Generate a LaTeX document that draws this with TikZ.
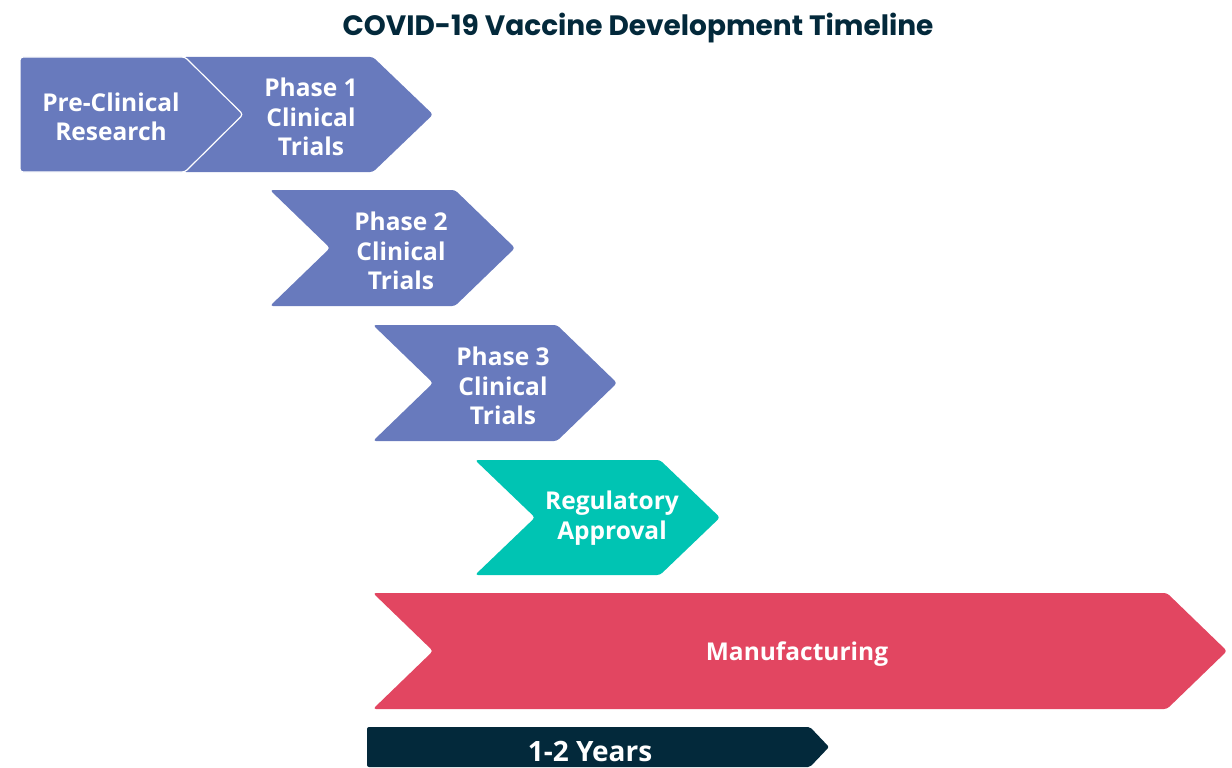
\documentclass[tikz,border=0pt]{standalone}
\usepackage{fontspec}
\setmainfont{Open Sans}
\newfontfamily\titlefont{Poppins}
\definecolor{phaseblue}{HTML}{687ABD}
\definecolor{regteal}{HTML}{00C4B3}
\definecolor{mfgred}{HTML}{E24661}
\definecolor{darknavy}{HTML}{03293B}
\begin{document}
\begin{tikzpicture}[x=1pt,y=-1pt,
    stage/.style={rounded corners=3pt},
    lbl/.style={text=white,align=center,font=\fontsize{24.5}{29.5}\selectfont\bfseries}]
        \useasboundingbox (0,0) rectangle (1232,768);
        \node[text=darknavy,font=\titlefont\fontsize{28}{32}\selectfont\bfseries] (title) at (638,28) {COVID-19 Vaccine Development Timeline};
        % Phase 1 (sotto Pre-Clinical)
        \fill[phaseblue,stage] (183,57) -- (373,57) -- (433,114.5) -- (373,172) -- (183,172) -- (243,114.5) -- cycle;
        % Pre-Clinical
        \filldraw[phaseblue,stage,draw=white,line width=1.2pt] (20,57) -- (185,57) -- (243,114.5) -- (185,172) -- (20,172) -- cycle;
        \node[lbl] (pre) at (111,117) {Pre-Clinical\\Research};
        \node[lbl] (ph1) at (311,117) {Phase 1\\Clinical\\Trials};
        % Phase 2 e 3
        \fill[phaseblue,stage] (270,190) -- (455,190) -- (515,248) -- (455,306) -- (270,306) -- (330,248) -- cycle;
        \node[lbl] (ph2) at (401,251) {Phase 2\\Clinical\\Trials};
        \fill[phaseblue,stage] (373,325) -- (557,325) -- (617,383) -- (557,441) -- (373,441) -- (433,383) -- cycle;
        \node[lbl] (ph3) at (503,386) {Phase 3\\Clinical\\Trials};
        % Regulatory
        \fill[regteal,stage] (475,460) -- (660,460) -- (720,517.5) -- (660,575) -- (475,575) -- (535,517.5) -- cycle;
        \node[lbl] (reg) at (612,518) {Regulatory\\Approval};
        % Manufacturing
        \fill[mfgred,stage] (373,593) -- (1167,593) -- (1227,651) -- (1167,709) -- (373,709) -- (433,651) -- cycle;
        \node[lbl] (mfg) at (797,654) {Manufacturing};
        % Durata
        \fill[darknavy,rounded corners=2pt] (367,727) -- (810,727) -- (829,747) -- (810,767) -- (367,767) -- cycle;
        \node[lbl,font=\fontsize{28}{32}\selectfont\bfseries] (yrs) at (590,751) {1-2 Years};
    \end{tikzpicture}
\end{document}
